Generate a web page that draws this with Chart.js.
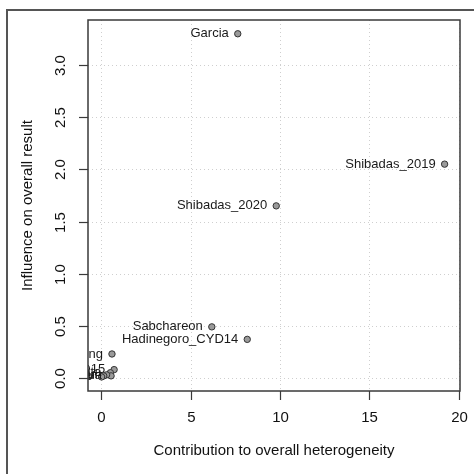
<!DOCTYPE html>
<html>
<head>
<meta charset="utf-8">
<script src="https://cdn.jsdelivr.net/npm/chart.js@4.4.1/dist/chart.umd.min.js"></script>
<style>
    html, body { margin: 0; padding: 0; background: #fff; }
    #wrap { position: relative; width: 474px; height: 474px; }
    #frame {
        position: absolute; left: 6px; top: 9px; right: 0; bottom: 0;
        border-top: 2px solid #555; border-left: 2px solid #555;
        pointer-events: none;
    }
</style>
</head>
<body>
<div id="wrap">
    <canvas id="baujat" width="474" height="474"></canvas>
    <div id="frame"></div>
</div>
<script>
const studies = ['Garcia', 'Shibadas_2019', 'Shibadas_2020', 'Sabchareon', 'Hadinegoro_CYD14',
    'Capeding', 'Villar_CYD15', 'Lanata', 'Dayan_Rivera', 'Sirivichayakul', 'Tricou', 'Leo'];
const contribution = [7.64, 19.2, 9.79, 6.19, 8.17, 0.61, 0.73, 0.52, 0.56, 0.31, 0.15, 0.03];
const influence = [3.30, 2.05, 1.65, 0.49, 0.37, 0.23, 0.08, 0.05, 0.02, 0.03, 0.02, 0.01];

const xTicks = [0, 5, 10, 15, 20];
const xTickLabels = ['0', '5', '10', '15', '20'];
const yTicks = [0, 0.5, 1, 1.5, 2, 2.5, 3];
const yTickLabels = ['0.0', '0.5', '1.0', '1.5', '2.0', '2.5', '3.0'];
const xTitle = 'Contribution to overall heterogeneity';
const yTitle = 'Influence on overall result';

const FONT = '"Liberation Sans", Arial, Helvetica, sans-serif';

// R-style frame, dotted grid, ticks and clipped point labels
const baujatPlugin = {
    id: 'baujat',
    beforeDatasetsDraw(chart) {
        const { ctx, chartArea: ca, scales } = chart;
        ctx.save();
        ctx.strokeStyle = '#cfcfcf';
        ctx.lineWidth = 1;
        ctx.setLineDash([1, 3]);
        xTicks.forEach((v) => {
            const px = Math.round(scales.x.getPixelForValue(v)) + 0.5;
            ctx.beginPath();
            ctx.moveTo(px, ca.top);
            ctx.lineTo(px, ca.bottom);
            ctx.stroke();
        });
        yTicks.forEach((v) => {
            const py = Math.round(scales.y.getPixelForValue(v)) + 0.5;
            ctx.beginPath();
            ctx.moveTo(ca.left, py);
            ctx.lineTo(ca.right, py);
            ctx.stroke();
        });
        ctx.restore();
    },
    afterDatasetsDraw(chart) {
        const { ctx, chartArea: ca, scales } = chart;
        const pts = chart.getDatasetMeta(0).data;

        // study labels, left of each point, clipped to plot region
        ctx.save();
        ctx.beginPath();
        ctx.rect(ca.left, ca.top, ca.right - ca.left, ca.bottom - ca.top);
        ctx.clip();
        ctx.font = '13px ' + FONT;
        ctx.fillStyle = '#1a1a1a';
        ctx.textAlign = 'right';
        ctx.textBaseline = 'middle';
        pts.forEach((p, i) => {
            ctx.fillText(studies[i], p.x - 9, p.y);
        });
        ctx.restore();

        // box
        ctx.save();
        ctx.strokeStyle = '#3a3a3a';
        ctx.lineWidth = 1.5;
        ctx.strokeRect(ca.left, ca.top, ca.right - ca.left, ca.bottom - ca.top);

        // ticks
        ctx.lineWidth = 1.2;
        ctx.font = '15px ' + FONT;
        ctx.fillStyle = '#111';
        xTicks.forEach((v, i) => {
            const px = Math.round(scales.x.getPixelForValue(v)) + 0.5;
            ctx.beginPath();
            ctx.moveTo(px, ca.bottom);
            ctx.lineTo(px, ca.bottom + 9);
            ctx.stroke();
            ctx.textAlign = 'center';
            ctx.textBaseline = 'middle';
            ctx.fillText(xTickLabels[i], px, ca.bottom + 27);
        });
        yTicks.forEach((v, i) => {
            const py = Math.round(scales.y.getPixelForValue(v)) + 0.5;
            ctx.beginPath();
            ctx.moveTo(ca.left - 9, py);
            ctx.lineTo(ca.left, py);
            ctx.stroke();
            ctx.save();
            ctx.translate(ca.left - 27, py);
            ctx.rotate(-Math.PI / 2);
            ctx.textAlign = 'center';
            ctx.textBaseline = 'middle';
            ctx.fillText(yTickLabels[i], 0, 0);
            ctx.restore();
        });

        // axis titles
        ctx.textAlign = 'center';
        ctx.textBaseline = 'middle';
        ctx.fillText(xTitle, (ca.left + ca.right) / 2, 451);
        ctx.save();
        ctx.translate(28, (ca.top + ca.bottom) / 2);
        ctx.rotate(-Math.PI / 2);
        ctx.fillText(yTitle, 0, 0);
        ctx.restore();
        ctx.restore();
    },
};

new Chart(document.getElementById('baujat'), {
    type: 'scatter',
    data: {
        datasets: [
            {
                data: contribution.map((x, i) => ({ x, y: influence[i] })),
                pointRadius: 3.2,
                pointHoverRadius: 3.2,
                backgroundColor: '#9a9a9a',
                borderColor: '#333',
                borderWidth: 1,
            },
        ],
    },
    options: {
        responsive: false,
        devicePixelRatio: 1,
        animation: false,
        layout: {
            padding: { left: 88, top: 20, right: 14, bottom: 83 },
        },
        scales: {
            x: { type: 'linear', display: false, min: -0.73, max: 20.06 },
            y: { type: 'linear', display: false, min: -0.125, max: 3.432 },
        },
        plugins: {
            legend: { display: false },
            tooltip: { enabled: false },
        },
    },
    plugins: [baujatPlugin],
});
</script>
</body>
</html>
